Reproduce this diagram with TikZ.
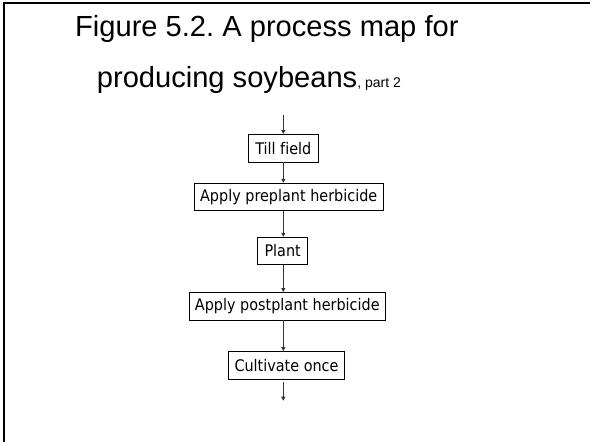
\documentclass[tikz,border=0pt]{standalone}
\usepackage{fontspec}
\setmainfont{Liberation Sans}
\newfontfamily\boxfont[FakeStretch=0.9,Ligatures=NoCommon]{DejaVu Sans}
\usetikzlibrary{arrows.meta}
\begin{document}
\frenchspacing
\begin{tikzpicture}[x=1pt,y=1pt,
  stepbox/.style={draw=black, line width=0.9pt, inner sep=0pt, minimum height=27.5pt,
    font=\boxfont\fontsize{16}{18}\selectfont},
  arr/.style={draw=black!80, line width=0.9pt, -{Triangle[length=4pt,width=4pt]}},
  frame/.style={line width=2pt, black}]
\useasboundingbox (0,0) rectangle (590,-442);
\draw[frame] (3.5,-442) -- (3.5,-3) -- (590,-3);
\node[anchor=base west, font=\fontsize{29.1}{36}\selectfont, inner sep=0pt] (t1) at (75,-36.5) {Figure 5.2. A process map for};
\node[anchor=base west, font=\fontsize{29.1}{36}\selectfont, inner sep=0pt] (t2) at (96.7,-87) {producing soybeans\rlap{\fontsize{14}{16}\selectfont, part 2}};
\coordinate (ax) at (283.3,0);
\node[stepbox, minimum width=70pt] (till) at (283.3,-148.2) {Till field};
\node[stepbox, minimum width=189.3pt] (pre) at (288.7,-197) {Apply preplant herbicide};
\node[stepbox, minimum width=50pt] (plant) at (282.7,-251) {Plant};
\node[stepbox, minimum width=196.7pt] (post) at (287.3,-306.2) {Apply postplant herbicide};
\node[stepbox, minimum width=116.4pt] (cult) at (286.5,-365.2) {Cultivate once};
\coordinate (top) at (283.3,-115);
\coordinate (bot) at (283.3,-400.7);
\draw[arr] (top) -- (till.north -| ax);
\draw[arr] (till.south -| ax) -- (pre.north -| ax);
\draw[arr] (pre.south -| ax) -- (plant.north -| ax);
\draw[arr] (plant.south -| ax) -- (post.north -| ax);
\draw[arr] (post.south -| ax) -- (cult.north -| ax);
\draw[arr] ([yshift=-3pt]cult.south -| ax) -- (bot);
\end{tikzpicture}
\end{document}
